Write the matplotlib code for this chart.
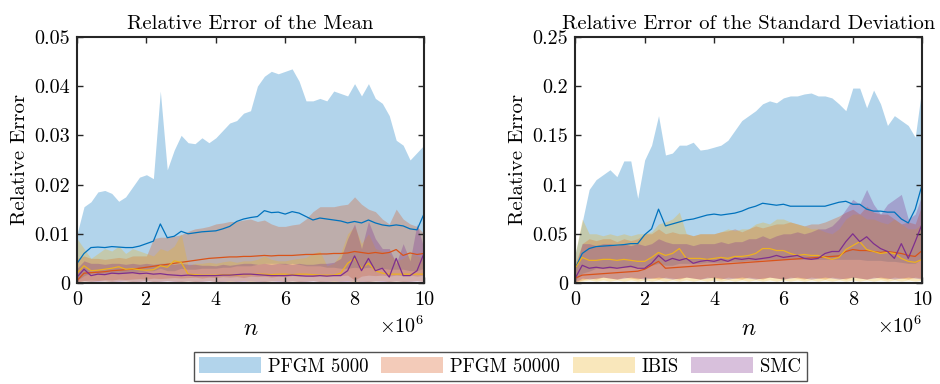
import numpy as np
import matplotlib
matplotlib.use("Agg")
import matplotlib.pyplot as plt
from matplotlib.patches import Patch

plt.rcParams['font.family'] = 'cmr10'
plt.rcParams['mathtext.fontset'] = 'cm'
plt.rcParams['axes.formatter.use_mathtext'] = True

# n in units of 1e6
n = np.arange(0, 51) * 0.2

labels = ['PFGM 5000', 'PFGM 50000', 'IBIS', 'SMC']
colors = ['#0072BD', '#D95319', '#EDB120', '#7E2F8E']

# ---- relative error of the mean (units of 1e-3) ----
mean_pf5k_hi = [10, 15.5, 16.5, 18.5, 18.8, 18.2, 16.6, 17.5, 19.5, 21.5, 22, 21.2, 39, 23, 27, 30, 28.5,
                28.3, 29.5, 28.5, 29.5, 31, 32.5, 33, 34.5, 35, 40, 42, 43, 42.5, 43, 43.5, 41, 37, 37, 37.5,
                37, 39, 38.5, 38, 40.5, 38, 40.5, 37.5, 36.5, 34, 29, 28, 25, 26.5, 28]
mean_pf5k_lo = [0.5, 1.5, 2, 2, 2, 2, 2, 2, 2.2, 2.2, 2.5, 2.5, 3, 2.5, 2.5, 3, 2.8, 2.8, 3, 3, 3, 3.2, 3.2,
                3.5, 3.5, 3.5, 3.8, 4, 4, 4, 3.8, 4, 3.8, 3.5, 3.5, 3.5, 3.2, 3.2, 3, 3, 3.2, 3, 3.2, 3, 3,
                2.8, 2.8, 2.8, 2.5, 2.5, 3]
mean_pf5k_med = [4, 6, 7.2, 7.3, 7.2, 7.4, 7.3, 7.2, 7.2, 7.5, 8, 8.5, 12, 9.2, 9.5, 10.5, 10, 10.2, 10.4,
                 10.5, 10.6, 11, 11.5, 12.5, 13, 13.3, 13.5, 14.7, 14.3, 14.4, 14, 14.5, 14.2, 13.5, 12.8,
                 13.2, 13, 12.8, 12.6, 12.2, 12.5, 12.2, 12.8, 12.2, 11.8, 11.6, 11.8, 11.6, 11, 10.8, 14]

mean_pf50k_hi = [5, 5.5, 5, 5, 4.8, 5, 5.2, 5, 5.5, 5.5, 5.5, 9, 9.3, 9.3, 9.5, 9.8, 10.5, 11, 11.2, 11.5,
                 12, 12.2, 12.5, 12.5, 12.8, 13, 12.5, 12.8, 12, 11.5, 11.5, 11.8, 12, 13, 14.5, 15.5, 15.5,
                 15.5, 15.8, 16, 17.5, 16, 15, 14.5, 13, 12, 15, 13, 12, 11.5, 10]
mean_pf50k_lo = [0.2, 0.5, 0.6, 0.5, 0.7, 0.6, 0.8, 0.7, 0.8, 0.9, 0.8, 1, 0.9, 1, 1.1, 1, 1.1, 1.2, 1, 1.2,
                 1.1, 1.3, 1.2, 1.3, 1.1, 1.4, 1.3, 1.4, 1.2, 1.4, 1.3, 1.5, 1.4, 1.5, 1.3, 1.5, 1.4, 1.6,
                 1.5, 1.6, 0.6, 1.4, 1.6, 1.5, 1.6, 1.4, 1.6, 1.5, 1.6, 1.4, 1.6]
mean_pf50k_med = [0.5, 2, 2.1, 2.2, 2.3, 2.5, 2.6, 2.7, 2.8, 3.0, 3.2, 3.4, 3.6, 3.8, 4.0, 4.2, 4.4, 4.6,
                  4.8, 5.0, 5.1, 5.2, 5.3, 5.3, 5.4, 5.4, 5.5, 5.6, 5.5, 5.6, 5.6, 5.6, 5.7, 5.8, 5.8, 5.9,
                  5.9, 6.0, 6.0, 6.1, 6.4, 6.2, 6.0, 6.2, 6.0, 6.2, 6.8, 5.6, 6.1, 5.8, 6.0]

mean_ibis_hi = [9, 7, 5, 6, 7, 6.5, 7.5, 6, 7, 6.5, 6, 5.5, 7, 6.5, 7.5, 10, 3.5, 4, 4, 4.2, 4, 4.3, 4.5,
                4.2, 4.5, 4.5, 4.8, 5.5, 4.8, 4.5, 4.5, 4.8, 5, 5.2, 6, 6.5, 3.5, 4, 6, 10, 11.5, 8, 10, 7,
                6.5, 6, 4.5, 5, 6, 5.5, 5]
mean_ibis_lo = [0.3, 0.4, 0.3, 0.5, 0.4, 0.3, 0.5, 0.4, 0.3, 0.4, 0.5, 0.3, 0.4, 0.5, 0.4, 0.3, 0.4, 0.3,
                0.4, 0.5, 0.3, 0.4, 0.3, 0.4, 0.5, 0.3, 0.4, 0.3, 0.4, 0.5, 0.3, 0.4, 0.3, 0.4, 0.5, 0.3,
                0.4, 0.3, 0.4, 0.5, 0.2, 0.4, 0.3, 0.4, 0.5, 0.3, 0.4, 0.3, 0.4, 0.5, 0.3]
mean_ibis_med = [2, 3.5, 2.5, 2.6, 2.8, 3, 3.3, 2.8, 2.9, 2.7, 2.6, 2.7, 3.5, 3.2, 4.5, 4.2, 1.8, 1.7, 1.6,
                 1.6, 1.6, 1.7, 1.7, 1.6, 1.7, 1.7, 1.8, 1.8, 1.7, 1.8, 1.8, 1.7, 1.8, 1.8, 1.7, 1.6, 1.6,
                 1.6, 2.0, 4.0, 5.0, 3.0, 4.0, 2.5, 2.0, 1.8, 1.8, 1.8, 1.8, 1.8, 1.8]

mean_smc_hi = [3, 4.5, 4, 4, 3.8, 4, 4, 3.8, 4, 3.8, 4, 3.8, 4, 4, 3.8, 4, 3.8, 3.8, 3.6, 3.6, 3.5, 3.8, 3.6,
               3.8, 4, 4, 3.8, 4, 3.8, 4, 4, 3.8, 4, 3.8, 3.8, 4, 4, 4.2, 5, 9, 12, 7, 12.5, 9, 7, 7, 4, 8,
               4.5, 12, 7]
mean_smc_lo = [0.3, 0.4, 0.3, 0.3, 0.4, 0.3, 0.3, 0.4, 0.3, 0.3, 0.4, 0.3, 0.3, 0.4, 0.3, 0.3, 0.4, 0.3,
               0.3, 0.4, 0.3, 0.3, 0.4, 0.3, 0.3, 0.4, 0.3, 0.3, 0.4, 0.3, 0.3, 0.4, 0.3, 0.3, 0.4, 0.3,
               0.3, 0.4, 0.3, 0.3, 0.4, 0.3, 0.3, 0.4, 0.3, 0.3, 0.4, 0.3, 0.3, 0.4, 0.3]
mean_smc_med = [1.2, 2.8, 1.5, 1.8, 1.7, 2, 1.9, 2, 2.1, 1.9, 2, 1.8, 1.9, 1.7, 1.6, 1.5, 1.6, 1.5, 1.5,
                1.5, 1.5, 1.6, 1.6, 1.7, 1.8, 1.8, 1.7, 1.6, 1.5, 1.5, 1.5, 1.6, 1.5, 1.4, 1.4, 1.5, 1.4,
                1.5, 1.5, 2.5, 5.5, 2.5, 5, 2.5, 3, 1.2, 5, 1.5, 1.5, 2.5, 6]

# ---- relative error of the standard deviation (units of 1e-2) ----
std_pf5k_hi = [3, 6.2, 9.5, 10.5, 11, 11.5, 10.8, 12.4, 12.4, 8.6, 12.5, 14, 17, 13, 13.2, 14, 14, 14.3,
               13.5, 13.6, 13.8, 14, 14.5, 15.5, 16.5, 17, 17.5, 18.2, 18.5, 18.3, 18.8, 19, 19, 19.2, 19.3,
               19, 19, 18.8, 18.2, 17.5, 19.8, 19.8, 17.8, 19.6, 18.2, 16, 17, 16.5, 16, 14.8, 20]
std_pf5k_lo = [0.3, 1, 1.2, 1.5, 1.5, 1.5, 1.6, 1.6, 1.6, 1.7, 1.7, 1.8, 2, 1.8, 1.8, 2, 2, 2, 2, 2.1, 2.1,
               2.1, 2.2, 2.2, 2.2, 2.3, 2.3, 2.4, 2.4, 2.4, 2.4, 2.4, 2.4, 2.4, 2.4, 2.4, 2.4, 2.4, 2.4, 2.4,
               2.4, 2.4, 2.3, 2.3, 2.3, 2.2, 2.2, 2.1, 2, 2, 2.5]
std_pf5k_med = [1.5, 3, 3.5, 3.7, 3.75, 3.8, 3.85, 3.9, 4.0, 4.0, 4.9, 5.5, 7.5, 5.8, 6, 6.2, 6.4, 6.5, 6.7,
                6.9, 7, 6.9, 7, 7.1, 7.3, 7.6, 7.8, 8.1, 8, 7.9, 8, 7.8, 7.8, 7.8, 7.8, 7.8, 7.8, 8, 8.2, 8.3,
                8, 8, 7.5, 7.3, 7.3, 7.2, 7.2, 6.5, 6.1, 7.5, 10]

std_pf50k_hi = [2, 4, 4.5, 4.3, 4.5, 4.5, 4.2, 4.5, 4.3, 4.5, 5, 5, 5.5, 5, 5.2, 5, 5, 4.8, 5, 5, 5, 5.2, 5.3,
                5.5, 5.2, 5.5, 5.8, 5.6, 5.8, 6, 6, 6.2, 6, 5.8, 6, 6, 6.2, 6.5, 6.8, 7.2, 7.5, 7, 7.8, 7.2,
                7, 7, 6.5, 6, 6.2, 6, 8]
std_pf50k_lo = [0.1, 0.3, 0.5, 0.4, 0.6, 0.5, 0.4, 0.6, 0.5, 0.4, 0.6, 0.5, 0.4, 0.6, 0.5, 0.4, 0.6, 0.5,
                0.4, 0.6, 0.5, 0.4, 0.6, 0.5, 0.4, 0.6, 0.5, 0.4, 0.6, 0.5, 0.4, 0.6, 0.5, 0.4, 0.6, 0.5,
                0.4, 0.6, 0.5, 0.4, 0.6, 0.5, 0.4, 0.6, 0.5, 0.4, 0.6, 0.5, 0.4, 0.6, 0.5]
std_pf50k_med = [0.5, 0.8, 0.85, 0.9, 0.95, 1.0, 1.05, 1.1, 1.15, 1.2, 1.4, 1.8, 2.2, 1.5, 1.55, 1.6, 1.65,
                 1.7, 1.75, 1.8, 1.85, 1.9, 1.95, 2.0, 2.05, 2.1, 2.15, 2.2, 2.25, 2.3, 2.35, 2.4, 2.45, 2.5,
                 2.55, 2.6, 2.65, 2.7, 2.75, 3.2, 3.4, 3.3, 3.3, 3.2, 3.1, 3.2, 3.1, 3.0, 2.8, 2.7, 3.3]

std_ibis_hi = [3, 6.5, 5, 5, 4.8, 5, 4.8, 5, 4.8, 5, 5, 5.2, 6, 6.2, 6.5, 7.2, 5, 4.8, 5, 5, 5, 5.2, 5.5, 5.3,
               5.5, 5.5, 6, 6.2, 6, 6.5, 6.5, 6.2, 6, 5.8, 5.5, 5.5, 5.2, 5, 5.5, 6.5, 7, 7, 6.5, 6.5, 6.2, 6,
               6.5, 6, 5.5, 5.5, 6]
std_ibis_lo = [0.1, 0.2, 0.3, 0.2, 0.3, 0.2, 0.3, 0.2, 0.3, 0.2, 0.3, 0.2, 0.3, 0.2, 0.3, 0.2, 0.3, 0.2, 0.3,
               0.2, 0.3, 0.2, 0.3, 0.2, 0.3, 0.2, 0.3, 0.2, 0.3, 0.2, 0.3, 0.2, 0.3, 0.2, 0.3, 0.2, 0.3, 0.2,
               0.3, 0.2, 0.3, 0.2, 0.3, 0.2, 0.3, 0.2, 0.3, 0.2, 0.3, 0.2, 0.3]
std_ibis_med = [1.5, 2.6, 2.3, 2.3, 2.4, 2.4, 2.3, 2.4, 2.3, 2.2, 2.2, 2.6, 3.1, 2.8, 3.0, 3.5, 2.5, 2.5, 2.5,
                2.4, 2.5, 2.6, 2.5, 2.7, 2.7, 2.8, 3.0, 3.5, 3.5, 3.3, 3.3, 3.0, 2.8, 2.9, 2.8, 2.8, 2.6, 2.4,
                2.6, 3.4, 3.8, 4.2, 3.4, 3.2, 3.0, 3.1, 3.0, 2.5, 2.2, 2.1, 2.4]

std_smc_hi = [1.5, 4, 4, 3.8, 4, 4, 3.8, 4, 3.8, 4, 3.8, 4, 4.5, 4.2, 4, 4, 4, 3.8, 4, 4, 4, 4.2, 4, 4.2, 4.2,
              4.5, 4.5, 4.8, 4.5, 4.8, 5, 5, 5.2, 5, 5.2, 5.5, 5.5, 5.8, 6.5, 7.5, 8.5, 8, 9.5, 8, 7, 8, 8.5,
              9, 6.5, 7, 9]
std_smc_lo = [0.1, 0.5, 0.4, 0.5, 0.6, 0.5, 0.4, 0.5, 0.6, 0.5, 0.4, 0.5, 0.6, 0.5, 0.4, 0.5, 0.6, 0.5, 0.4,
              0.5, 0.6, 0.5, 0.4, 0.5, 0.6, 0.5, 0.4, 0.5, 0.6, 0.5, 0.4, 0.5, 0.6, 0.5, 0.4, 0.5, 0.6, 0.5,
              0.4, 0.5, 0.6, 0.5, 0.4, 0.5, 0.6, 0.5, 0.4, 0.5, 0.6, 0.5, 0.4]
std_smc_med = [0.5, 1.8, 1.5, 1.6, 1.5, 1.6, 1.5, 1.6, 1.7, 1.5, 1.5, 2.0, 2.8, 2.2, 2.5, 2.3, 2.5, 2.0, 2.2,
               2.3, 2.2, 2.4, 2.2, 2.5, 2.4, 2.5, 2.4, 2.5, 2.6, 2.8, 2.6, 2.7, 2.8, 2.5, 2.4, 2.5, 3.0, 3.2,
               3.2, 4.2, 5.0, 4.2, 4.7, 4.0, 3.5, 3.2, 2.5, 4.0, 2.5, 4.2, 6]

panels = [
    ("Relative Error of the Mean", 1e-3,
     [(mean_pf5k_lo, mean_pf5k_hi, mean_pf5k_med),
      (mean_pf50k_lo, mean_pf50k_hi, mean_pf50k_med),
      (mean_ibis_lo, mean_ibis_hi, mean_ibis_med),
      (mean_smc_lo, mean_smc_hi, mean_smc_med)],
     [0, 0.01, 0.02, 0.03, 0.04, 0.05], ['0', '0.01', '0.02', '0.03', '0.04', '0.05']),
    ("Relative Error of the Standard Deviation", 1e-2,
     [(std_pf5k_lo, std_pf5k_hi, std_pf5k_med),
      (std_pf50k_lo, std_pf50k_hi, std_pf50k_med),
      (std_ibis_lo, std_ibis_hi, std_ibis_med),
      (std_smc_lo, std_smc_hi, std_smc_med)],
     [0, 0.05, 0.1, 0.15, 0.2, 0.25], ['0', '0.05', '0.1', '0.15', '0.2', '0.25']),
]

fig = plt.figure(figsize=(9.4, 3.84), dpi=100)
ax_left = [0.082, 0.612]

for k, (title, scale, series, yt, ytl) in enumerate(panels):
    ax = fig.add_axes([ax_left[k], 0.263, 0.369, 0.641])
    for (lo, hi, med), c in zip(series, colors):
        ax.fill_between(n, np.array(lo) * scale, np.array(hi) * scale,
                        color=c, alpha=0.3, linewidth=0)
    for (lo, hi, med), c in zip(series, colors):
        ax.plot(n, np.array(med) * scale, color=c, lw=0.9)
    ax.set_xlim(0, 10)
    ax.set_ylim(yt[0], yt[-1])
    ax.set_xticks([0, 2, 4, 6, 8, 10])
    ax.set_xticklabels(['0', '2', '4', '6', '8', '10'])
    ax.set_yticks(yt)
    ax.set_yticklabels(ytl)
    ax.tick_params(direction='in', top=True, right=True, length=4, width=1,
                   labelsize=14.5, pad=5, color='#262626')
    ax.tick_params(axis='x', pad=6)
    for s in ax.spines.values():
        s.set_linewidth(1.5)
        s.set_color('#262626')
    ax.set_title(title, fontsize=14.9, pad=6)
    ax.set_ylabel('Relative Error', fontsize=15, labelpad=4)
    ax.set_xlabel('$n$', fontsize=17, labelpad=6)
    ax.text(1.0, -0.13, r'$\times10^{6}$', transform=ax.transAxes, ha='right', va='top',
            fontsize=14.5)

handles = [Patch(facecolor=c, alpha=0.3, edgecolor='none') for c in colors]
fig.legend(handles, labels, loc='lower center', bbox_to_anchor=(0.532, 0.0), ncol=4,
           fontsize=13.5, frameon=True, fancybox=False, edgecolor='#262626',
           handlelength=3.3, handleheight=0.9, columnspacing=0.7, handletextpad=0.35,
           borderpad=0.3, borderaxespad=0.15)

fig.savefig('out.png', dpi=100)
